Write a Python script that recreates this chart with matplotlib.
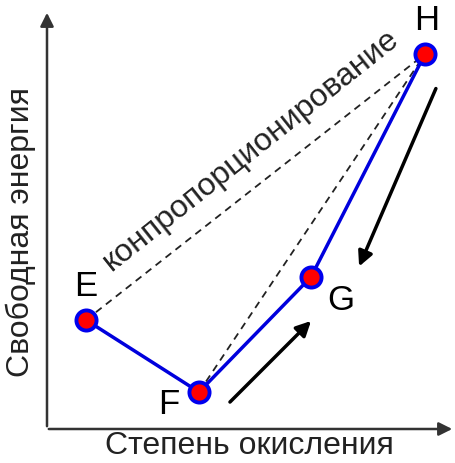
import matplotlib.pyplot as plt

# point positions (picture coordinates, y grows downward)
names = ["E", "F", "G", "H"]
xs = [86, 199, 311, 425]
ys = [320, 392, 277, 54]
label_xs = [86, 169, 341, 427]
label_ys = [287, 405, 300, 21]

# arrows: start -> end
arrow_starts = [(228, 404), (437, 86)]
arrow_ends = [(313, 319), (358, 269)]

plt.rcParams["font.family"] = ["Liberation Sans", "DejaVu Sans"]

fig = plt.figure(figsize=(4.55, 4.63), dpi=100)
ax = fig.add_axes([0, 0, 1, 1])
ax.set_xlim(0, 455)
ax.set_ylim(463, 0)
ax.axis("off")

# axes with arrowheads
ax.annotate("", xy=(47, 10), xytext=(47, 429),
            arrowprops=dict(arrowstyle="-|>", color="#333333", lw=1.8, mutation_scale=20))
ax.annotate("", xy=(455, 429), xytext=(46, 429),
            arrowprops=dict(arrowstyle="-|>", color="#333333", lw=1.8, mutation_scale=20))

ax.text(21, 232, "Свободная энергия", rotation=90, ha="center", va="center",
        fontsize=23, color="#222222")
ax.text(249, 446, "Степень окисления", ha="center", va="center",
        fontsize=23, color="#222222")

# dashed lines E-H and F-H
for i in [0, 1]:
    ax.plot([xs[i], xs[3]], [ys[i], ys[3]], ls=(0, (4, 3)), color="#222222", lw=1.3)

ax.text(251, 150, "конпропорционирование", rotation=38.5, ha="center", va="center",
        fontsize=23, color="#222222", rotation_mode="anchor")

# blue path
ax.plot(xs, ys, color="#0000dd", lw=2.5, zorder=3)
ax.scatter(xs, ys, s=210, color="red", edgecolor="#0000ee", linewidth=2.8, zorder=4)

for n, lx, ly in zip(names, label_xs, label_ys):
    ax.text(lx, ly, n, ha="center", va="center", fontsize=25, color="black")

for s, e in zip(arrow_starts, arrow_ends):
    ax.annotate("", xy=e, xytext=s,
                arrowprops=dict(arrowstyle="-|>", color="black", lw=2.5, mutation_scale=22))

fig.savefig("out.png", dpi=100)
